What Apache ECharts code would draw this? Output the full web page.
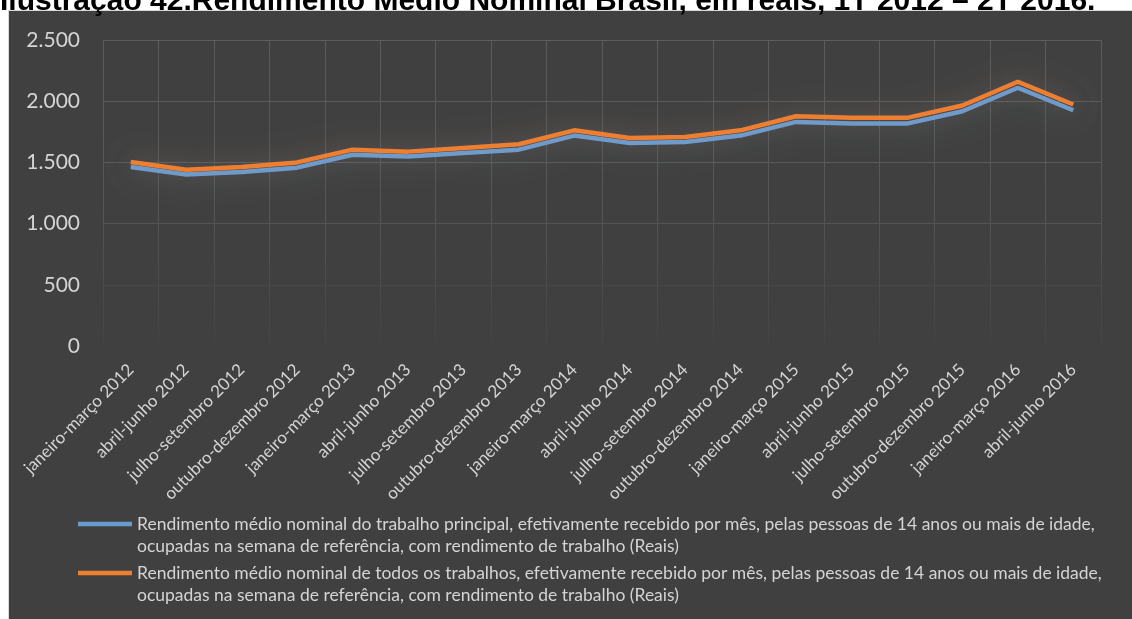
<!DOCTYPE html>
<html>
<head>
<meta charset="utf-8">
<script src="https://cdn.jsdelivr.net/npm/echarts@6/dist/echarts.min.js"></script>
<style>
  html, body { margin: 0; padding: 0; background: #fff; }
  #main { width: 1132px; height: 619px; }
</style>
</head>
<body>
<div id="main"></div>
<script>
// 类目（季度）
const categories = [
  "janeiro-março 2012", "abril-junho 2012", "julho-setembro 2012", "outubro-dezembro 2012",
  "janeiro-março 2013", "abril-junho 2013", "julho-setembro 2013", "outubro-dezembro 2013",
  "janeiro-março 2014", "abril-junho 2014", "julho-setembro 2014", "outubro-dezembro 2014",
  "janeiro-março 2015", "abril-junho 2015", "julho-setembro 2015", "outubro-dezembro 2015",
  "janeiro-março 2016", "abril-junho 2016"
];
// 系列数据
const principal = [1462, 1402, 1421, 1457, 1563, 1549, 1577, 1604, 1719, 1659, 1667, 1719, 1831, 1817, 1817, 1918, 2110, 1926];
const todos = [1504, 1440, 1462, 1500, 1604, 1588, 1618, 1648, 1762, 1700, 1708, 1762, 1877, 1864, 1864, 1965, 2159, 1973];
const yTicks = [0, 500, 1000, 1500, 2000, 2500];

const namePrincipal = "Rendimento médio nominal do trabalho principal, efetivamente recebido por mês, pelas pessoas de 14 anos ou mais de idade, ocupadas na semana de referência, com rendimento de trabalho (Reais)";
const nameTodos = "Rendimento médio nominal de todos os trabalhos, efetivamente recebido por mês, pelas pessoas de 14 anos ou mais de idade, ocupadas na semana de referência, com rendimento de trabalho (Reais)";

const fmtThousands = function (v) {
  return String(v).replace(/\B(?=(\d{3})+(?!\d))/g, ".");
};

// 图例：图标对齐第一行文字
const legendIcon = "path://M0,8.8L54,8.8L54,13.2L0,13.2Z M0,0L0.01,0Z M0,44L0.01,44Z";
const makeLegend = function (name, top) {
  return {
    data: [name],
    left: 78,
    top: top,
    padding: 0,
    itemWidth: 54,
    itemHeight: 44,
    icon: legendIcon,
    symbolKeepAspect: false,
    itemStyle: { borderWidth: 0 },
    formatter: function (n) {
      return n.replace(", ocupadas", ",\nocupadas");
    },
    textStyle: {
      color: "#d4d4d4",
      fontSize: 17.5,
      lineHeight: 22
    }
  };
};

var myChart = echarts.init(document.getElementById("main"));
const options = {
  backgroundColor: "#ffffff",
  animation: false,
  textStyle: { fontFamily: "Lato, 'Open Sans', sans-serif" },
  title: {
    text: "Ilustração 42.Rendimento Médio Nominal Brasil, em reais, 1T 2012 – 2T 2016.",
    left: 0,
    top: -13,
    padding: 0,
    textStyle: {
      color: "#000",
      fontSize: 30,
      fontWeight: "bold",
      fontFamily: "'Liberation Sans', Arial, sans-serif"
    }
  },
  graphic: [
    {
      // 深色图表区
      type: "rect",
      left: 8,
      top: 10,
      z: -10,
      silent: true,
      shape: { width: 1124, height: 609 },
      style: { fill: "#404040", stroke: "#d9d9d9", lineWidth: 1 }
    }
  ],
  legend: [makeLegend(namePrincipal, 513), makeLegend(nameTodos, 562)],
  grid: {
    left: 103,
    right: 31,
    top: 40,
    bottom: 273
  },
  xAxis: {
    type: "category",
    data: categories,
    boundaryGap: true,
    axisLine: { show: false },
    axisTick: { show: false },
    axisLabel: {
      interval: 0,
      rotate: 45,
      margin: 21,
      color: "#d4d4d4",
      fontSize: 17
    },
    splitLine: {
      show: true,
      interval: 0,
      lineStyle: {
        width: 1,
        color: {
          type: "linear",
          x: 0, y: 40, x2: 0, y2: 346,
          global: true,
          colorStops: [
            { offset: 0, color: "#5c5c5c" },
            { offset: 0.55, color: "#565656" },
            { offset: 1, color: "#434343" }
          ]
        }
      }
    }
  },
  yAxis: {
    type: "value",
    min: yTicks[0],
    max: yTicks[yTicks.length - 1],
    interval: 500,
    axisLine: { show: false },
    axisTick: { show: false },
    axisLabel: {
      color: "#d4d4d4",
      fontSize: 21,
      margin: 23,
      formatter: fmtThousands
    },
    splitLine: {
      lineStyle: {
        width: 1,
        color: ["#424242", "#484848", "#545454", "#5a5a5a", "#5b5b5b", "#5c5c5c"]
      }
    }
  },
  series: [
    {
      name: namePrincipal,
      type: "line",
      data: principal,
      symbol: "none",
      color: "#6a9bcf",
      lineStyle: {
        width: 4.5,
        color: "#6a9bcf",
        shadowColor: "rgba(91,155,213,0.4)",
        shadowBlur: 24
      },
      z: 2
    },
    {
      name: nameTodos,
      type: "line",
      data: todos,
      symbol: "none",
      color: "#ef7f30",
      lineStyle: {
        width: 4.5,
        color: "#ef7f30",
        shadowColor: "rgba(237,125,49,0.32)",
        shadowBlur: 24
      },
      z: 3
    }
  ]
};
myChart.setOption(options);
</script>
</body>
</html>
